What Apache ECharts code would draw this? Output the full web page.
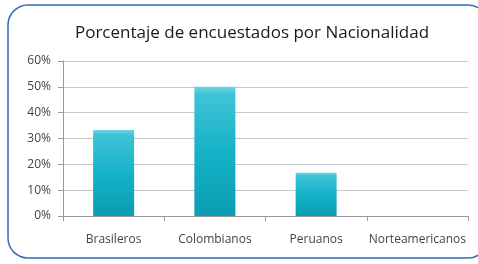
<!DOCTYPE html>
<html>
<head>
<meta charset="utf-8">
<script src="https://cdn.jsdelivr.net/npm/echarts@6/dist/echarts.min.js"></script>
<style>
  html, body { margin: 0; padding: 0; background: #fff; }
  #chart { width: 478px; height: 264px; }
</style>
</head>
<body>
<div id="chart"></div>
<script>
// datos
var categorias = ['Brasileros', 'Colombianos', 'Peruanos', 'Norteamericanos'];
var porcentajes = [33.3, 50, 16.7, 0];
var titulo = 'Porcentaje de encuestados por Nacionalidad';

var chart = echarts.init(document.getElementById('chart'), null, {
  width: 478,
  height: 264
});

var option = {
  backgroundColor: '#ffffff',
  animation: false,
  title: {
    text: titulo,
    left: 247,
    top: 20,
    textAlign: 'center',
    textStyle: {
      fontFamily: 'Open Sans',
      fontSize: 17,
      fontWeight: 'normal',
      color: '#1a1a1a'
    }
  },
  graphic: [{
    type: 'rect',
    shape: { x: 8, y: 5, width: 480, height: 253, r: 20 },
    style: { fill: 'none', stroke: '#2f6db5', lineWidth: 1.5 },
    z: 10
  }],
  grid: {
    left: 63,
    right: 10,
    top: 61,
    bottom: 48
  },
  xAxis: {
    type: 'category',
    data: categorias,
    axisLine: { lineStyle: { color: '#999999' } },
    axisTick: { show: true, interval: 0, length: 5, lineStyle: { color: '#999999' } },
    axisLabel: {
      interval: 0,
      fontFamily: 'Open Sans',
      fontSize: 12,
      color: '#444444',
      margin: 18
    }
  },
  yAxis: {
    type: 'value',
    min: 0,
    max: 60,
    interval: 10,
    axisLine: { show: true, lineStyle: { color: '#999999' } },
    axisTick: { show: true, length: 5, lineStyle: { color: '#999999' } },
    splitLine: { lineStyle: { color: '#c8c8c8' } },
    axisLabel: {
      formatter: '{value}%',
      fontFamily: 'Open Sans',
      fontSize: 12,
      color: '#444444',
      margin: 12
    }
  },
  series: [{
    type: 'bar',
    data: porcentajes,
    barWidth: 41,
    itemStyle: {
      color: new echarts.graphic.LinearGradient(0, 0, 0, 1, [
        { offset: 0, color: '#6fd3e1' },
        { offset: 0.06, color: '#3fc3d6' },
        { offset: 0.5, color: '#15b2c7' },
        { offset: 1, color: '#0b9db2' }
      ]),
      borderWidth: 0
    }
  }]
};

chart.setOption(option);
</script>
</body>
</html>
